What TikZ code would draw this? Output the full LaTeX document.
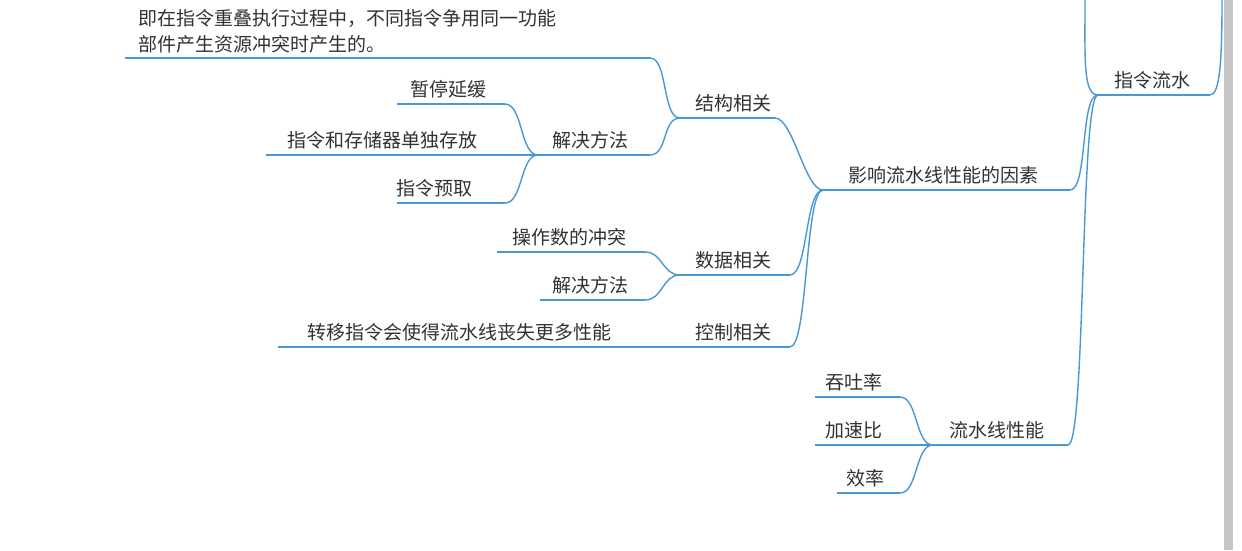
\documentclass[tikz,border=0pt]{standalone}
\usepackage{fontspec}
\setmainfont{Noto Sans CJK SC}
\definecolor{lineblue}{RGB}{72,152,214}
\definecolor{txtgray}{RGB}{50,50,50}
\tikzset{ln/.style={draw=lineblue,line width=1.4pt},
  lbl/.style={anchor=south,inner sep=0pt,text=txtgray,font=\fontsize{19}{26}\selectfont}}
\begin{document}
\begin{tikzpicture}[x=1pt,y=-1pt]
				\useasboundingbox (0,0) rectangle (1242,550);
				\fill[gray!45] (1224,0) rectangle (1233,550);
				%Nodes
				\node[lbl,anchor=south west,align=left] (cause) at (138,53) {即在指令重叠执行过程中，不同指令争用同一功能\\部件产生资源冲突时产生的。};
				\coordinate (causeL) at (125,58); \coordinate (causeR) at (650,58);
				\node[lbl] (jg) at (733,112) {结构相关};
				\coordinate (jgL) at (680,118); \coordinate (jgR) at (775,118);
				\node[lbl] (ff1) at (590,149) {解决方法};
				\coordinate (ff1L) at (538,155); \coordinate (ff1R) at (650,155);
				\node[lbl] (zt) at (448,98) {暂停延缓};
				\coordinate (ztL) at (397,104); \coordinate (ztR) at (505,104);
				\node[lbl] (cc) at (382,149) {指令和存储器单独存放};
				\coordinate (ccL) at (266,155);
				\node[lbl] (yq) at (434,197) {指令预取};
				\coordinate (yqL) at (397,203); \coordinate (yqR) at (505,203);
				\node[lbl] (yx) at (943,184) {影响流水线性能的因素};
				\coordinate (yxL) at (823,190); \coordinate (yxR) at (1070,190);
				\node[lbl] (root) at (1152,89) {指令流水};
				\coordinate (rootL) at (1098,95); \coordinate (rootR) at (1210,95);
				\coordinate (topL) at (1085,0); \coordinate (topR) at (1222,0);
				\node[lbl] (sj) at (733,269) {数据相关};
				\coordinate (sjL) at (680,275); \coordinate (sjR) at (790,275);
				\node[lbl] (ct) at (569,246) {操作数的冲突};
				\coordinate (ctL) at (497,252); \coordinate (ctR) at (645,252);
				\node[lbl] (ff2) at (590,294) {解决方法};
				\coordinate (ff2L) at (540,300); \coordinate (ff2R) at (645,300);
				\node[lbl] (kz) at (733,341) {控制相关};
				\coordinate (kzL) at (680,347); \coordinate (kzR) at (790,347);
				\node[lbl] (zy) at (459,341) {转移指令会使得流水线丧失更多性能};
				\coordinate (zyL) at (278,347);
				\node[lbl] (xn) at (997,439) {流水线性能};
				\coordinate (xnL) at (933,445); \coordinate (xnR) at (1068,445);
				\node[lbl] (tt) at (854,391) {吞吐率};
				\coordinate (ttL) at (815,397); \coordinate (ttR) at (900,397);
				\node[lbl] (js) at (854,439) {加速比};
				\coordinate (jsL) at (815,445);
				\node[lbl] (xl) at (865,487) {效率};
				\coordinate (xlL) at (837,493); \coordinate (xlR) at (900,493);

				%Lines
				\foreach \a/\b in {causeL/causeR,jgL/jgR,ff1L/ff1R,ztL/ztR,ccL/ff1L,yqL/yqR,yxL/yxR,rootL/rootR,
				  sjL/sjR,ctL/ctR,ff2L/ff2R,kzL/kzR,zyL/kzL,xnL/xnR,ttL/ttR,jsL/xnL,xlL/xlR}
				  \draw[ln] (\a) -- (\b);
				\foreach \a/\b in {causeR/jgL,jgR/yxL,ztR/ff1L,ff1L/ff1L,yqR/ff1L,ff1R/jgL,sjR/yxL,kzR/yxL,
				  ctR/sjL,ff2R/sjL,yxR/rootL,xnR/rootL,ttR/xnL,xlR/xnL}
				  \draw[ln] (\a) .. controls +(18,0) and +(-18,0) .. (\b);
				\draw[ln] (rootL) .. controls +(-15,0) and +(0,60) .. (topL);
				\draw[ln] (rootR) .. controls +(10,0) and +(0,60) .. (topR);
\end{tikzpicture}
\end{document}
